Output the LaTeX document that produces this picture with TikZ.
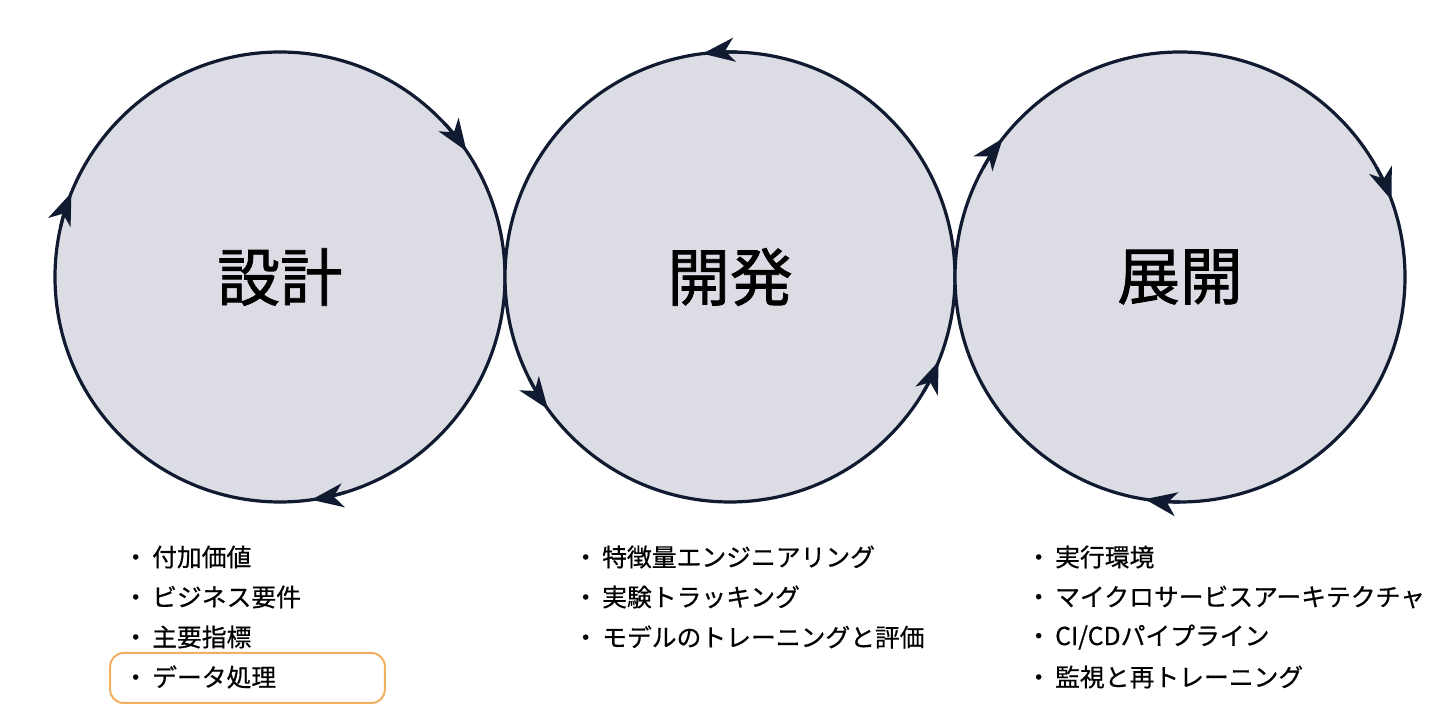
\documentclass[tikz,border=0pt]{standalone}
\usepackage{fontspec}
\setmainfont{Noto Sans CJK JP}
\newfontfamily\medfont[FakeBold=0.6]{Noto Sans CJK JP}
\newfontfamily\titlefont[FakeBold=1.2]{Noto Sans CJK JP}
\usetikzlibrary{arrows.meta}
\definecolor{navy}{HTML}{101A30}
\definecolor{cfill}{HTML}{DCDCE4}
\definecolor{hl}{HTML}{F0B060}
\begin{document}
\begin{tikzpicture}[x=0.75pt,y=0.75pt,
  cyc/.style={circle,draw=navy,fill=cfill,line width=2.4pt,minimum size=337.5pt,inner sep=0pt,font=\titlefont\fontsize{47}{52}\selectfont},
  arr/.style={draw=navy,line width=2.4pt,-{Stealth[length=24pt,width=18pt,inset=7pt]}},
  item/.style={anchor=west,font=\medfont\fontsize{18.6}{21}\selectfont,inner sep=0pt}]
\useasboundingbox[fill=white] (0,0) rectangle (1456,720);
\node[cyc] (c1) at (280,443) {設計};
\node[cyc] (c2) at (730,443) {開発};
\node[cyc] (c3) at (1180,443) {展開};
% circle 1 clockwise
\foreach \a in {34,158,278}{\draw[arr] (c1.center) ++(\a+9:225) arc[start angle=\a+9,end angle=\a,radius=225];}
% circle 2 counterclockwise
\foreach \a in {97,216,338}{\draw[arr] (c2.center) ++(\a-9:225) arc[start angle=\a-9,end angle=\a,radius=225];}
% circle 3 clockwise
\foreach \a in {142,20,261}{\draw[arr] (c3.center) ++(\a+9:225) arc[start angle=\a+9,end angle=\a,radius=225];}
% lists
\node[draw=hl,line width=1.5pt,rounded corners=10pt,minimum width=206pt,minimum height=37.5pt] (hlbox) at (247.5,42) {};
\foreach \t [count=\i] in {付加価値,ビジネス要件,主要指標,データ処理}{
  \node[item] (a\i) at (123,163-40*\i+40) {・\,\t};}
\foreach \t [count=\i] in {特徴量エンジニアリング,実験トラッキング,モデルのトレーニングと評価}{
  \node[item] (b\i) at (573,163-40*\i+40) {・\,\t};}
\foreach \t [count=\i] in {実行環境,マイクロサービスアーキテクチャ,CI/CDパイプライン,監視と再トレーニング}{
  \node[item] (d\i) at (1026,163-40*\i+40) {・\,\t};}
\end{tikzpicture}
\end{document}
